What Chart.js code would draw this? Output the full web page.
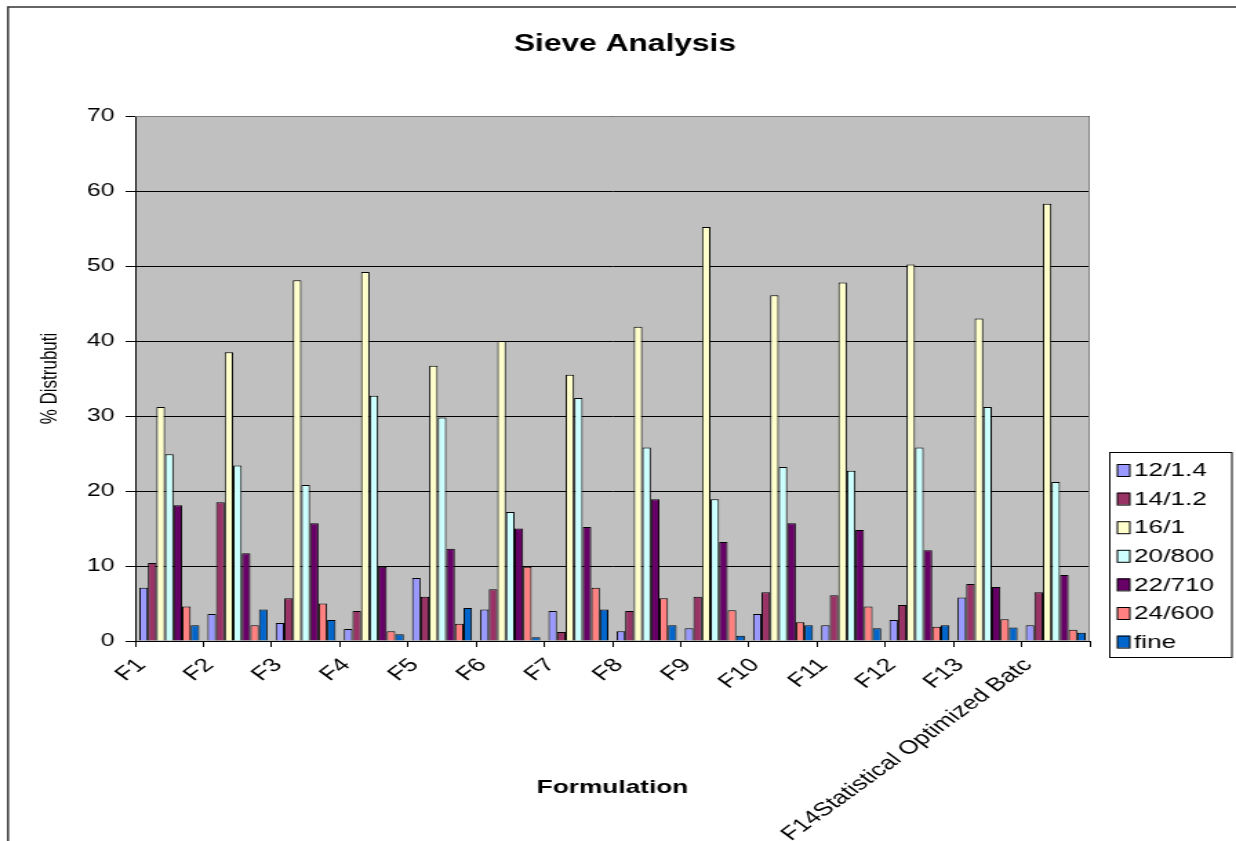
<!DOCTYPE html>
<html lang="en">
<head>
    <meta charset="UTF-8">
    <title>Sieve Analysis</title>
    <script src="https://cdn.jsdelivr.net/npm/chart.js"></script>
    <style>
        html, body { margin: 0; padding: 0; background: #fff; overflow: hidden; }
        #wrap { width: 1236px; height: 841px; position: relative; overflow: hidden; }
        /* the reference is an Excel chart stretched sideways, so draw narrow and widen */
        #sieveChart { position: absolute; left: 0; top: 0; transform-origin: 0 0; transform: scaleX(1.3795); }
    </style>
</head>
<body>
<div id="wrap"><canvas id="sieveChart" width="896" height="841"></canvas></div>
<script>
const formulations = ['F1', 'F2', 'F3', 'F4', 'F5', 'F6', 'F7', 'F8', 'F9', 'F10', 'F11', 'F12', 'F13',
    'F14Statistical Optimized Batc'];
const sieveNames = ['12/1.4', '14/1.2', '16/1', '20/800', '22/710', '24/600', 'fine'];
const sieveColors = ['#9999FF', '#993366', '#FFFFCC', '#CCFFFF', '#660066', '#FF8080', '#0066CC'];

const s12 = [7.1, 3.6, 2.4, 1.6, 8.4, 4.2, 4.0, 1.3, 1.7, 3.6, 2.1, 2.8, 5.8, 2.1];
const s14 = [10.4, 18.5, 5.7, 4.0, 5.9, 6.9, 1.2, 4.0, 5.9, 6.5, 6.1, 4.8, 7.6, 6.5];
const s16 = [31.2, 38.5, 48.1, 49.2, 36.7, 40.0, 35.5, 41.9, 55.2, 46.1, 47.8, 50.2, 43.0, 58.3];
const s20 = [24.9, 23.4, 20.8, 32.7, 29.8, 17.2, 32.4, 25.8, 18.9, 23.2, 22.7, 25.8, 31.2, 21.2];
const s22 = [18.1, 11.7, 15.7, 9.9, 12.3, 15.0, 15.2, 18.9, 13.2, 15.7, 14.8, 12.1, 7.2, 8.8];
const s24 = [4.6, 2.1, 5.0, 1.3, 2.3, 9.9, 7.1, 5.7, 4.1, 2.5, 4.6, 1.9, 2.9, 1.5];
const sFine = [2.1, 4.2, 2.8, 0.9, 4.4, 0.5, 4.2, 2.1, 0.7, 2.1, 1.7, 2.1, 1.8, 1.1];
const yTicks = [0, 10, 20, 30, 40, 50, 60, 70];

const seriesValues = [s12, s14, s16, s20, s22, s24, sFine];
const FONT = '"Liberation Sans", Arial, sans-serif';

// gray plot background, frames, titles and the boxed legend
const excelLook = {
    id: 'excelLook',
    beforeDraw(chart) {
        const {ctx, chartArea: a} = chart;
        ctx.save();
        ctx.fillStyle = '#C0C0C0';
        ctx.fillRect(a.left, a.top, a.right - a.left, a.bottom - a.top);
        ctx.restore();
    },
    afterDraw(chart) {
        const {ctx, chartArea: a} = chart;
        ctx.save();
        // plot area frame
        ctx.strokeStyle = '#808080';
        ctx.lineWidth = 1;
        ctx.beginPath();
        ctx.moveTo(a.left, a.top + 0.5);
        ctx.lineTo(a.right - 0.5, a.top + 0.5);
        ctx.lineTo(a.right - 0.5, a.bottom);
        ctx.stroke();
        // outer chart frame
        ctx.strokeStyle = '#333';
        ctx.lineWidth = 1.5;
        ctx.beginPath();
        ctx.moveTo(5.8, 845);
        ctx.lineTo(5.8, 7);
        ctx.lineTo(900, 7);
        ctx.stroke();
        ctx.fillStyle = '#000';
        ctx.textAlign = 'center';
        ctx.textBaseline = 'middle';
        // chart title
        ctx.font = 'bold 23px ' + FONT;
        ctx.fillText('Sieve Analysis', 453, 45);
        // x axis title
        ctx.font = 'bold 19px ' + FONT;
        ctx.fillText('Formulation', 444, 788);
        // legend
        ctx.strokeStyle = '#000';
        ctx.lineWidth = 1;
        ctx.strokeRect(804.5, 452.5, 88.5, 205);
        ctx.font = '19px ' + FONT;
        ctx.textAlign = 'left';
        chart.data.datasets.forEach((ds, i) => {
            const y = 470 + i * 28.6;
            ctx.fillStyle = ds.backgroundColor;
            ctx.fillRect(810, y - 6, 9, 12);
            ctx.strokeRect(810, y - 5.5, 9, 12);
            ctx.fillStyle = '#000';
            ctx.fillText(ds.label, 822, y + 1);
        });
        ctx.restore();
    }
};

new Chart(document.getElementById('sieveChart'), {
    type: 'bar',
    data: {
        labels: formulations,
        datasets: sieveNames.map((name, i) => ({
            label: name,
            data: seriesValues[i],
            backgroundColor: sieveColors[i],
            borderColor: '#000',
            borderWidth: 1,
            barPercentage: 1,
            categoryPercentage: 0.88
        }))
    },
    options: {
        responsive: false,
        animation: false,
        layout: {padding: {left: 22, right: 106, top: 116, bottom: 0}},
        plugins: {
            legend: {display: false},
            tooltip: {enabled: false},
            title: {display: false}
        },
        scales: {
            x: {
                afterFit: (scale) => { scale.height = 200; },
                grid: {offset: true, drawOnChartArea: false, drawTicks: true, tickLength: 6, color: '#000'},
                border: {display: true, color: '#000', width: 1},
                ticks: {
                    autoSkip: false,
                    minRotation: 45,
                    maxRotation: 45,
                    padding: 7,
                    labelOffset: -20,
                    color: '#000',
                    font: {family: FONT, size: 19}
                }
            },
            y: {
                min: 0,
                max: 70,
                afterFit: (scale) => { scale.width = 76; },
                afterBuildTicks: (scale) => { scale.ticks = yTicks.map(v => ({value: v})); },
                grid: {color: '#000', lineWidth: 1, drawTicks: true, tickLength: 7},
                border: {display: true, color: '#000', width: 1},
                ticks: {color: '#000', padding: 8, font: {family: FONT, size: 18}},
                title: {
                    display: true,
                    text: '% Distrubuti',
                    color: '#000',
                    font: {family: FONT, size: 17},
                    padding: {top: 4, bottom: 0}
                }
            }
        }
    },
    plugins: [excelLook]
});
</script>
</body>
</html>
